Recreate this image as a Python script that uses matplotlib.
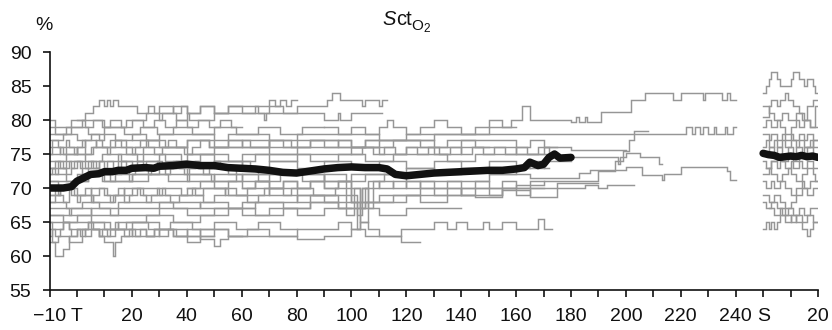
import matplotlib
matplotlib.use("Agg")
import matplotlib.pyplot as plt
from matplotlib.transforms import IdentityTransform

# ---------------- data ----------------
# tick layout: main timeline -10..240, then S (end) segment 250..270
tick_pos = list(range(-10, 280, 10))
tick_lab = ["\u221210", "T", "", "20", "", "40", "", "60", "", "80", "", "100", "",
            "120", "", "140", "", "160", "", "180", "", "200", "", "220", "", "240",
            "S", "", "20"]
y_ticks = [55, 60, 65, 70, 75, 80, 85, 90]

# mean curve (black), main segment
mean_t = [-10, -5, -2, 0, 3, 5, 8, 10, 13, 15, 18, 20, 25, 28, 30, 35, 40, 45, 50, 55, 60, 65, 70, 75, 80,
          85, 90, 95, 100, 105, 110, 113, 116, 120, 125, 130, 135, 140, 145, 150, 155, 160,
          163, 165, 168, 170, 172, 174, 176, 180]
mean_v = [70, 70, 70.2, 71, 71.6, 72, 72.1, 72.4, 72.4, 72.6, 72.6, 72.9, 73, 72.9, 73.2, 73.3, 73.5, 73.3, 73.3, 73.0,
          72.9, 72.8, 72.6, 72.3, 72.2, 72.5, 72.8, 73.0, 73.1, 73.0, 73.0, 72.8, 72.0, 71.8,
          72.0, 72.2, 72.3, 72.4, 72.5, 72.6, 72.6, 72.8, 73.0, 73.8, 73.3, 73.5, 74.5, 75.0,
          74.4, 74.5]
# mean curve, S segment
mean_s_t = [250, 252, 254, 256, 258, 260, 262, 264, 266, 268, 270]
mean_s_v = [75.1, 74.9, 74.8, 74.5, 74.6, 74.7, 74.6, 74.8, 74.6, 74.7, 74.5]

# individual patients (step traces: change times, values)
m01_t = [-10, -2, 3, 6, 8, 10, 11, 12, 13, 15, 22, 26, 28, 30, 35, 38, 40, 45, 50, 55, 62, 66, 70, 75, 80, 91, 93, 96, 104, 105, 110, 111, 113]
m01_v = [79, 80, 81, 82, 83, 82, 83, 82, 83, 82, 81, 82, 81, 82, 81, 82, 81, 82, 81, 82, 82, 81, 82, 81, 82, 83, 84, 83, 82, 83, 82, 83]
m02_t = [-10, -4, 2, 10, 18, 25, 30, 31, 36, 40, 41, 50, 60, 68, 69, 78, 85, 90, 95, 96, 100, 101, 111]
m02_v = [78, 79, 80, 79, 80, 81, 80, 81, 80, 81, 80, 81, 81, 80, 81, 81, 81, 80, 81, 80, 81, 81]
m03_t = [-10, -5, 0, 5, 8, 10, 14, 20, 25, 30, 40, 50, 55, 60, 70, 80, 90, 100, 110, 120, 130, 140, 150, 160, 170, 180, 200, 222, 224, 225, 227, 228, 230, 232, 233, 236, 237, 239, 240]
m03_v = [77, 78, 77, 78, 77, 78, 77, 78, 77, 78, 78, 77, 78, 78, 77, 78, 78, 78, 77, 78, 78, 78, 78, 78, 78, 78, 78, 79, 78, 79, 78, 79, 78, 79, 78, 79, 78, 79]
m04_t = [-10, -6, 0, 6, 10, 20, 24, 30, 40, 50, 60, 70, 80, 90, 100, 115, 130, 150, 158, 162, 165, 180, 182, 183, 185, 186, 191, 202, 207, 217, 220, 228, 229, 235, 237, 238, 240]
m04_v = [75, 76, 75, 76, 76, 75, 76, 76, 75, 76, 76, 75, 76, 76, 76, 77, 78, 79, 80, 82, 80, 79.7, 80.5, 79.7, 80.5, 79.7, 81.2, 83, 84, 83, 84, 83, 84, 83, 84, 83]
m05_t = [-10, -3, 3, 8, 15, 22, 30, 38, 45, 55, 65, 75, 85, 95, 105, 115, 125, 135, 145, 155, 165, 175, 185, 197, 198, 200, 205, 212, 213]
m05_v = [73, 74, 73, 74, 75, 74, 75, 74, 75, 74, 75, 75, 74, 75, 74, 75, 75, 74, 75, 75, 75, 74.6, 74.6, 73.5, 74.6, 75.2, 74.6, 73.5]
m06_t = [-10, -2, 5, 15, 30, 45, 60, 80, 100, 120, 140, 160, 170, 190, 196, 199, 201, 203, 205, 208]
m06_v = [66, 67, 66, 67, 68, 67, 68, 69, 68, 69, 70, 70.5, 71, 72.5, 74, 75.5, 77, 78.4, 78.4]
m07_t = [-10, -4, 4, 12, 20, 30, 40, 50, 60, 75, 90, 105, 120, 135, 150, 165, 183, 187, 200, 206, 213, 214, 220, 224, 237, 238, 240]
m07_v = [72, 71, 72, 71, 72, 73, 72, 71, 72, 72, 71, 72, 71, 71, 72, 71.5, 72.2, 72.6, 73.1, 71.9, 71.2, 72, 73.1, 73.1, 72.5, 71.2]
m08_t = [-10, -6, 0, 6, 14, 22, 30, 42, 55, 68, 80, 95, 110, 125, 140, 155, 170, 185, 190, 193, 203]
m08_v = [69, 70, 69, 68, 69, 70, 69, 70, 69, 70, 69, 68, 69, 70, 69, 70, 70, 70.5, 70, 70.5]
m09_t = [-10, -7, -3, 2, 8, 14, 20, 28, 35, 45, 55, 62, 70, 80, 90, 95, 100, 103, 106, 110, 118, 125, 130, 135, 138, 142, 148, 150, 155, 160, 163, 168, 170, 173]
m09_v = [62, 63, 62, 64, 63, 64, 63, 64, 63, 64, 63, 64, 63, 64, 64, 65, 64, 65, 64, 63, 64, 64, 65, 64, 65, 64, 65, 64, 65, 64, 64, 65.5, 64]
m10_t = [-10, -9, -8, -5, -3, 0, 3, 5, 8, 10, 13, 14, 16, 20, 25, 30, 35, 40, 45, 50, 55, 60]
m10_v = [65, 62, 60, 61, 63, 64, 63, 64, 63, 62, 60, 62, 63, 64, 63, 64, 63, 62, 63, 64, 63]
m11_t = [-10, -5, 0, 5, 12, 20, 30, 40, 45, 50, 52, 55, 60, 70, 80, 90, 100, 105, 110, 118, 125]
m11_v = [66, 65, 66, 65, 64, 65, 64, 63, 62.5, 61.5, 62.5, 63, 63, 63, 62.5, 63, 64, 63, 63, 62]
m12_t = [-10, -4, 2, 8, 15, 25, 35, 45, 55, 65, 75, 85, 95, 100]
m12_v = [68, 67, 68, 67, 68, 68, 67, 68, 67, 68, 67, 68, 67]
m13_t = [-10, -3, 5, 12, 20, 30, 40, 50, 60, 70, 80, 90, 100, 110, 120, 130, 140]
m13_v = [67, 66, 67, 66, 66, 67, 66, 67, 66, 67, 66, 67, 67, 66, 67, 67]
m14_t = [-10, -8, -6, -4, -2, 0, 2, 4, 6, 8, 10, 15, 20, 25, 30, 35, 40, 50, 60, 70, 80, 90, 100, 110, 120, 130, 140, 150, 160, 170, 180]
m14_v = [73, 74, 73, 74, 73, 74, 73, 74, 73, 74, 73, 74, 73, 74, 73, 74, 73, 74, 73, 74, 73, 74, 73, 74, 73, 74, 73, 74, 73, 74]
m15_t = [-10, -5, 0, 3, 7, 12, 18, 25, 32, 40, 48, 55, 63, 70, 78, 85, 95, 105, 115, 125, 135, 145, 150]
m15_v = [76, 75, 76, 77, 76, 77, 76, 77, 76, 77, 76, 77, 76, 77, 76, 77, 76, 77, 77, 76, 77, 76]
m16_t = [-10, -7, -1, 4, 9, 14, 19, 26, 33, 41, 49, 58, 66, 74, 82, 90, 98, 101, 103, 106, 112, 120]
m16_v = [71, 70, 71, 72, 71, 72, 71, 72, 71, 72, 71, 72, 71, 72, 71, 72, 66, 70, 65, 71, 72]
m17_t = [-10, -6, -1, 5, 11, 17, 24, 31, 38, 46, 54, 62, 70, 78, 86, 94, 100, 102, 103, 104, 106]
m17_v = [69, 70, 69, 70, 69, 70, 69, 70, 69, 70, 69, 70, 69, 70, 69, 70, 68, 64, 68, 70]
m18_t = [0, 3, 6, 9, 12, 16, 20, 24, 28, 32, 36, 40, 44, 48, 52, 56, 60]
m18_v = [80, 79, 80, 79, 80, 79, 80, 79, 80, 79, 80, 79, 80, 79, 80, 79]
m19_t = [-10, -8, -2, 4, 10, 17, 23, 29, 35, 42, 50, 58, 66, 74, 82, 90]
m19_v = [80, 78, 79, 78, 79, 78, 79, 78, 79, 78, 79, 78, 79, 78, 79]
m20_t = [-10, -4, 3, 9, 16, 24, 32, 40, 50, 60, 70, 80, 90, 100, 110, 120, 130, 140, 150, 160, 170, 180, 190, 200]
m20_v = [74, 75, 74, 75, 74, 75, 74, 75, 74, 75, 74, 75, 75, 76, 75, 76, 75, 76, 76, 75, 76, 75.6, 75.6]
m21_t = [-10, -5, 5, 15, 25, 35, 45, 55, 65, 75, 85, 95, 105, 115, 125, 135, 145, 155, 165, 175, 185, 190]
m21_v = [64, 65, 64, 65, 66, 65, 66, 67, 66, 67, 68, 67, 68, 69, 68, 69, 68.7, 69.7, 68.7, 70.7, 70.7]
m22_t = [-10, 0, 10, 20, 30, 40, 50, 60, 70, 80, 90, 100, 110, 120, 130, 140, 150, 160, 165, 170, 172]
m22_v = [71, 72, 71, 72, 72, 71, 72, 71, 72, 72, 71, 72, 72, 73, 72, 73, 72, 73, 74, 73]
m23_t = [20, 30, 40, 50, 60, 70, 80, 90, 100, 110, 120, 130, 140, 150, 160, 165, 170, 175]
m23_v = [77, 76, 77, 76, 77, 76, 77, 77, 76, 77, 77, 76, 77, 77, 76, 77, 76]
m24_t = [-10, -3, 4, 10, 18, 26, 34, 42, 50, 58, 66, 74, 80]
m24_v = [65, 64, 65, 64, 65, 64, 65, 64, 65, 64, 65, 64]
m25_t = [30, 35, 40, 45, 50, 55, 60, 65, 70, 72, 74, 76, 78, 80]
m25_v = [81, 82, 81, 82, 81, 82, 81, 82, 83, 82, 83, 82, 83]
m26_t = [-10, -9, -8, -7, -5, -4, -2, -1, 1, 2, 4, 5, 7, 8, 10, 11, 13, 14, 16, 18, 19, 21, 22, 24, 26, 27, 29, 31, 32, 34, 36, 37, 39, 41, 43, 44, 46, 48, 50, 52, 55, 58, 60, 63, 66, 70]
m26_v = [72, 73, 72, 74, 73, 72, 73, 74, 73, 72, 73, 74, 73, 72, 73, 74, 73, 72, 74, 73, 72, 73, 74, 73, 72, 73, 74, 73, 72, 73, 74, 73, 72, 73, 74, 73, 72, 73, 74, 73, 72, 73, 74, 73, 72]
m27_t = [-10, -8, -7, -5, -3, -2, 0, 1, 3, 5, 6, 8, 10, 12, 13, 15, 17, 19, 20, 23, 25, 27, 29, 32, 34, 37, 40, 43, 46, 50, 54, 58, 62, 66, 70, 75, 80, 85, 90, 95]
m27_v = [68, 70, 69, 68, 70, 69, 68, 69, 70, 68, 69, 70, 69, 68, 69, 70, 68, 69, 70, 69, 68, 69, 70, 69, 68, 69, 70, 69, 68, 69, 70, 69, 68, 69, 70, 69, 68, 69, 68]
m28_t = [-10, -9, -7, -6, -4, -3, -1, 0, 2, 3, 5, 7, 9, 11, 12, 14, 16, 18, 21, 23, 26, 28, 31, 33, 36, 39, 42, 45, 48, 51, 55, 60, 65, 70, 75, 80, 85, 90, 95, 100, 105, 110]
m28_v = [75, 77, 76, 75, 77, 76, 75, 76, 77, 75, 76, 77, 76, 75, 76, 77, 76, 75, 76, 77, 76, 75, 76, 77, 76, 75, 76, 77, 76, 76, 77, 76, 76, 77, 76, 76, 77, 76, 77, 76, 77]
m29_t = [-10, -9, -8, -6, -5, -3, -2, 0, 1, 3, 4, 6, 8, 9, 11, 12, 14, 15, 17, 19, 21, 23, 25, 28, 30, 33, 36, 40, 45, 50]
m29_v = [63, 64, 63, 64, 65, 64, 63, 64, 63, 64, 65, 64, 63, 64, 63, 64, 65, 64, 63, 64, 63, 64, 63, 64, 63, 64, 63, 64, 63]
m30_t = [60, 65, 70, 75, 80, 85, 90, 95, 100, 103, 105, 108, 110, 115, 120, 125, 130, 135, 140, 145, 150, 155, 160, 165, 170]
m30_v = [70, 71, 70, 71, 70, 71, 70, 71, 70, 67, 70, 71, 70, 71, 70, 71, 70, 71, 70, 71, 70, 71, 70, 71]
m31_t = [90, 95, 100, 105, 110, 113, 115, 120, 125, 130, 135, 140, 145, 150, 155, 160]
m31_v = [79, 78, 79, 78, 79, 80, 79, 78, 79, 80, 79, 78, 79, 80, 79]
m32_t = [100, 104, 108, 112, 116, 120, 124, 128, 132, 136, 140, 144, 148, 152, 156, 160, 164, 168, 172, 175]
m32_v = [75, 76, 75, 76, 75, 76, 75, 76, 75, 76, 75, 76, 75, 76, 75, 76, 75, 76, 75]
m33_t = [40, 45, 50, 55, 60, 65, 70, 75, 80, 85, 90, 95, 100, 102, 104, 106, 108, 110, 115, 120, 125, 130, 135, 140, 145, 150, 155, 160, 165, 170]
m33_v = [70, 71, 70, 71, 70, 71, 70, 71, 70, 71, 70, 71, 69, 66, 70, 67, 70, 71, 70, 71, 70, 69, 70, 69, 70, 69, 70, 69, 70]

s01_t = [250, 251, 252, 253, 255, 256, 258, 260, 261, 263, 265, 266, 268, 269, 270]
s01_v = [84, 85, 86, 87, 86, 85, 85, 86, 87, 86, 85, 86, 85, 84]
s02_t = [250, 252, 254, 257, 259, 262, 264, 266, 268, 270]
s02_v = [82, 81, 80, 81, 80, 81, 80, 82, 83]
s03_t = [250, 251, 253, 255, 256, 258, 260, 262, 263, 265, 267, 270]
s03_v = [79, 80, 79, 80, 79, 78, 79, 80, 79, 80, 79]
s04_t = [250, 252, 253, 255, 257, 258, 260, 261, 263, 265, 266, 268, 270]
s04_v = [78, 77, 78, 77, 78, 77, 78, 77, 78, 77, 78, 77]
s05_t = [250, 251, 252, 254, 255, 257, 258, 260, 262, 263, 265, 267, 268, 270]
s05_v = [76, 77, 76, 77, 76, 77, 76, 77, 76, 77, 76, 77, 76]
s06_t = [250, 252, 254, 255, 257, 259, 261, 262, 264, 266, 268, 270]
s06_v = [75, 76, 75, 76, 75, 76, 75, 76, 75, 76, 75]
s07_t = [250, 251, 253, 255, 256, 258, 260, 261, 263, 264, 266, 268, 270]
s07_v = [74, 73, 74, 73, 74, 73, 74, 73, 74, 73, 74, 73]
s08_t = [250, 252, 253, 255, 257, 259, 260, 262, 264, 266, 268, 269, 270]
s08_v = [72, 73, 72, 71, 72, 73, 72, 71, 72, 73, 72, 71]
s09_t = [250, 251, 253, 254, 256, 258, 260, 262, 264, 265, 267, 270]
s09_v = [71, 70, 71, 70, 71, 70, 69, 70, 71, 70, 71]
s10_t = [250, 252, 254, 256, 258, 260, 262, 264, 266, 268, 270]
s10_v = [69, 68, 69, 68, 67, 68, 69, 70, 69, 70]
s11_t = [250, 251, 253, 255, 257, 259, 261, 263, 265, 267, 270]
s11_v = [68, 67, 68, 67, 66, 67, 66, 67, 66, 67]
s12_t = [252, 254, 256, 258, 260, 262, 264, 266, 268, 270]
s12_v = [67, 66, 67, 66, 65, 66, 65, 66, 65]
s13_t = [250, 251, 252, 253, 254, 255, 256, 258, 260, 262, 264, 266, 267, 268, 270]
s13_v = [64, 65, 64, 65, 64, 65, 66, 65, 66, 65, 64, 63, 64, 65]
s14_t = [250, 252, 253, 255, 256, 258, 259, 261, 263, 265, 267, 269, 270]
s14_v = [80.5, 82, 83, 82, 83, 84, 83, 82, 81, 80, 79, 82]
s15_t = [251, 253, 255, 257, 259, 261, 263, 265, 268, 270]
s15_v = [73, 74, 75, 74, 75, 74, 75, 76, 77]

traces = [(m01_t, m01_v), (m02_t, m02_v), (m03_t, m03_v), (m04_t, m04_v), (m05_t, m05_v),
          (m06_t, m06_v), (m07_t, m07_v), (m08_t, m08_v), (m09_t, m09_v), (m10_t, m10_v),
          (m11_t, m11_v), (m12_t, m12_v), (m13_t, m13_v), (m14_t, m14_v), (m15_t, m15_v),
          (m16_t, m16_v), (m17_t, m17_v), (m18_t, m18_v), (m19_t, m19_v), (m20_t, m20_v),
          (m21_t, m21_v), (m22_t, m22_v), (m23_t, m23_v), (m24_t, m24_v), (m25_t, m25_v),
          (m26_t, m26_v), (m27_t, m27_v), (m28_t, m28_v), (m29_t, m29_v), (m30_t, m30_v),
          (m31_t, m31_v), (m32_t, m32_v), (m33_t, m33_v),
          (s01_t, s01_v), (s02_t, s02_v), (s03_t, s03_v), (s04_t, s04_v), (s05_t, s05_v),
          (s06_t, s06_v), (s07_t, s07_v), (s08_t, s08_v), (s09_t, s09_v), (s10_t, s10_v),
          (s11_t, s11_v), (s12_t, s12_v), (s13_t, s13_v), (s14_t, s14_v), (s15_t, s15_v)]

# ---------------- plotting ----------------
plt.rcParams["font.family"] = ["Liberation Sans", "DejaVu Sans"]

fig = plt.figure(figsize=(8.32, 3.30), dpi=100)
ax = fig.add_axes([0.0595, 0.1212, 0.9237, 0.7212])

grey = "#969696"
for t, v in traces:
    n = min(len(t), len(v) + 1)
    xs = list(t[:n])
    ys = list(v[:n - 1]) + [v[n - 2]]
    ax.step(xs, ys, where="post", color=grey, lw=1.05, solid_joinstyle="miter")

ax.plot(mean_t, mean_v, color="#111111", lw=5.4, solid_capstyle="round", zorder=5)
ax.plot(mean_s_t, mean_s_v, color="#111111", lw=5.4, solid_capstyle="round", zorder=5)

ax.set_xlim(-10, 270)
ax.set_ylim(55, 90)
ax.set_xticks(tick_pos)
ax.set_xticklabels(tick_lab)
ax.set_yticks(y_ticks)
ax.set_yticklabels([str(v) for v in y_ticks])

for s in ["top", "right"]:
    ax.spines[s].set_visible(False)
for s in ["left", "bottom"]:
    ax.spines[s].set_linewidth(1.2)
    ax.spines[s].set_color("#111111")

ax.tick_params(axis="both", direction="out", length=5, width=1.2, color="#111111",
               labelsize=14, labelcolor="#111111")
ax.tick_params(axis="y", pad=8)
ax.tick_params(axis="x", pad=8)

fig.text(0.042, 0.909, "%", fontsize=14, ha="left", va="baseline", color="#111111")

# title "Sct" with subscript "O2", assembled piece by piece (pixel coordinates)
H = 330
renderer = fig.canvas.get_renderer()
ident = IdentityTransform()
pieces = [("S", 14.5, "italic", 25), ("ct", 14.5, "normal", 25),
          ("O", 11.0, "normal", 30), ("2", 8.5, "normal", 32)]
x = 382.0
for txt, size, style, base in pieces:
    tt = fig.text(x, H - base, txt, fontsize=size, style=style, ha="left", va="baseline",
                  color="#111111", transform=ident)
    x = tt.get_window_extent(renderer=renderer).x1 + 0.3

fig.savefig("out.png", dpi=100)
